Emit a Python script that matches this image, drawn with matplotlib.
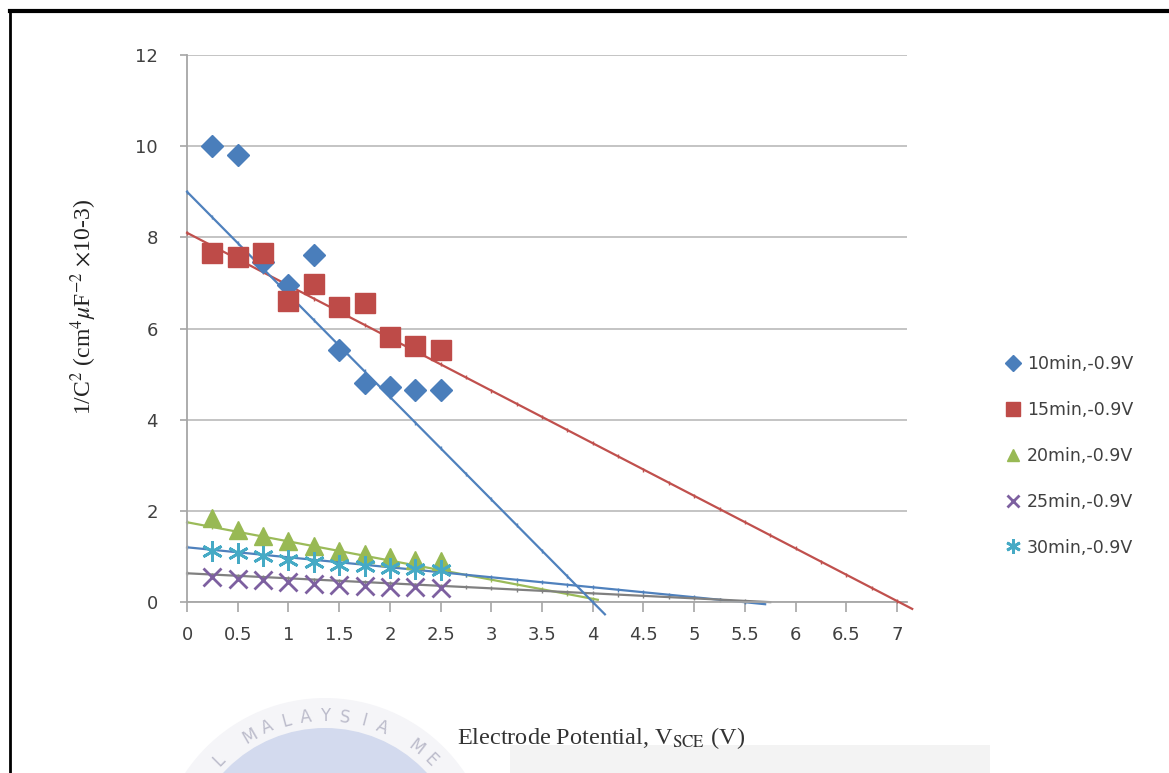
import matplotlib.pyplot as plt
import matplotlib.patches as mpatches
import numpy as np

plt.rcParams['mathtext.fontset'] = 'stix'

# 측정 전위 (V)
potential = [0.25, 0.5, 0.75, 1.0, 1.25, 1.5, 1.75, 2.0, 2.25, 2.5]

# 1/C^2 값
inv_c2_10 = [10.0, 9.8, 7.45, 6.95, 7.62, 5.52, 4.8, 4.72, 4.65, 4.65]
inv_c2_15 = [7.65, 7.58, 7.65, 6.6, 6.97, 6.48, 6.57, 5.82, 5.62, 5.52]
inv_c2_20 = [1.85, 1.58, 1.45, 1.33, 1.22, 1.13, 1.05, 0.98, 0.92, 0.9]
inv_c2_25 = [0.55, 0.5, 0.48, 0.43, 0.4, 0.37, 0.35, 0.33, 0.32, 0.3]
inv_c2_30 = [1.12, 1.07, 1.0, 0.92, 0.87, 0.82, 0.78, 0.75, 0.72, 0.7]

labels = ['10min,-0.9V', '15min,-0.9V', '20min,-0.9V', '25min,-0.9V', '30min,-0.9V']

# 추세선 (시작 x, 끝 x, 절편, 기울기)
trend_10 = (0.0, 4.12, 9.0, -2.25)
trend_15 = (0.0, 7.15, 8.1, -1.154)
trend_20 = (0.0, 4.05, 1.75, -0.42)
trend_25 = (0.0, 5.75, 0.63, -0.11)
trend_30 = (0.0, 5.7, 1.2, -0.219)

x_ticks = np.arange(0, 7.01, 0.5)
x_tick_labels = ['0', '0.5', '1', '1.5', '2', '2.5', '3', '3.5', '4', '4.5', '5', '5.5', '6', '6.5', '7']
y_ticks = [0, 2, 4, 6, 8, 10, 12]

fig = plt.figure(figsize=(11.69, 7.73), dpi=100)

# 배경 워터마크 (픽셀 좌표)
bg = fig.add_axes([0, 0, 1, 1], zorder=-5)
bg.set_xlim(0, 1169)
bg.set_ylim(773, 0)
bg.axis('off')
bg.add_patch(mpatches.Rectangle((510, 745), 480, 30, color='#f3f3f3', lw=0))
bg.add_patch(mpatches.Circle((325, 866), 168, color='#f5f5f8', lw=0))
bg.add_patch(mpatches.Circle((325, 866), 138, color='#d3daee', lw=0))
wm = 'AL MALAYSIA ME'
for i, ch in enumerate(wm):
    ang = np.deg2rad(90 - (i - 7) * 7.5)
    yy = 866 - 150 * np.sin(ang)
    if yy > 762:
        continue
    bg.text(325 + 150 * np.cos(ang), yy, ch, color='#bcbccb',
            fontsize=12, ha='center', va='center', rotation=np.rad2deg(ang) - 90)
# 문서 테두리
bg.plot([10, 1169], [11, 11], color='black', lw=3)
bg.plot([10, 10], [11, 773], color='black', lw=2)

ax = fig.add_axes([0.16, 0.2212, 0.616, 0.7076])
ax.patch.set_alpha(0)

# 추세선 그리기
def draw_trend(t, color, lw=1.6, zorder=3):
    x0, x1, b, m = t
    xs = np.linspace(x0, x1, 2)
    ax.plot(xs, b + m * xs, color=color, lw=lw, clip_on=False, zorder=zorder)
    xm = np.arange(x0, x1, 0.25)
    ax.plot(xm, b + m * xm, ls='none', marker='|', ms=3, mew=1, color=color,
            clip_on=False, zorder=zorder)

draw_trend(trend_15, '#c0504d')
draw_trend(trend_10, '#4f81bd')
draw_trend(trend_20, '#9bbb59', zorder=2)
draw_trend(trend_30, '#4f81bd', zorder=2)
draw_trend(trend_25, '#808080', zorder=2)

ax.plot(potential, inv_c2_10, ls='none', marker='D', ms=11.5, color='#4a7ebb',
        label=labels[0], zorder=4)
ax.plot(potential, inv_c2_15, ls='none', marker='s', ms=15, color='#be4b48',
        label=labels[1], zorder=5)
ax.plot(potential, inv_c2_20, ls='none', marker='^', ms=13, color='#98b954',
        label=labels[2], zorder=4)
ax.plot(potential, inv_c2_25, ls='none', marker='x', ms=13, mew=2, color='#7d60a0',
        label=labels[3], zorder=4)
ax.plot(potential, inv_c2_30, ls='none', marker=(6, 2, 0), ms=15, mew=2, color='#46aac5',
        label=labels[4], zorder=4)

ax.set_xlim(0, 7.1)
ax.set_ylim(0, 12)
ax.set_xticks(x_ticks)
ax.set_xticklabels(x_tick_labels)
ax.set_yticks(y_ticks)

ax.yaxis.grid(True, color='#bfbfbf', lw=1.3)
ax.set_axisbelow(True)
for s in ['top', 'right']:
    ax.spines[s].set_visible(False)
for s in ['left', 'bottom']:
    ax.spines[s].set_color('#a6a6a6')
    ax.spines[s].set_linewidth(1.3)

ax.tick_params(axis='x', direction='out', length=7, color='#a6a6a6', width=1.2,
               pad=10, labelsize=13, labelcolor='#404040')
ax.tick_params(axis='y', direction='out', length=5, color='#a6a6a6', width=1.2,
               pad=16, labelsize=13, labelcolor='#404040')

# 축 제목
fig.text(84 / 1169, 1 - 307 / 773, r'1/C$^{2}$ (cm$^{4}$$\mu$F$^{-2}$ $\times$10-3)',
         family='Liberation Serif', fontsize=17, color='#222222', rotation=90,
         ha='center', va='center')
fig.text(601 / 1169, 1 - 738 / 773, r'Electrode Potential, V$_{\rm SCE}$ (V)',
         family='Liberation Serif', fontsize=17.5, color='#333333',
         ha='center', va='center')

leg = ax.legend(loc='center left', bbox_to_anchor=(1.111, 0.267), frameon=False,
                fontsize=12.5, labelspacing=1.6, handletextpad=0.2, handlelength=1.2,
                markerscale=0.7)
for t in leg.get_texts():
    t.set_color('#404040')

plt.savefig('out.png', dpi=100)
